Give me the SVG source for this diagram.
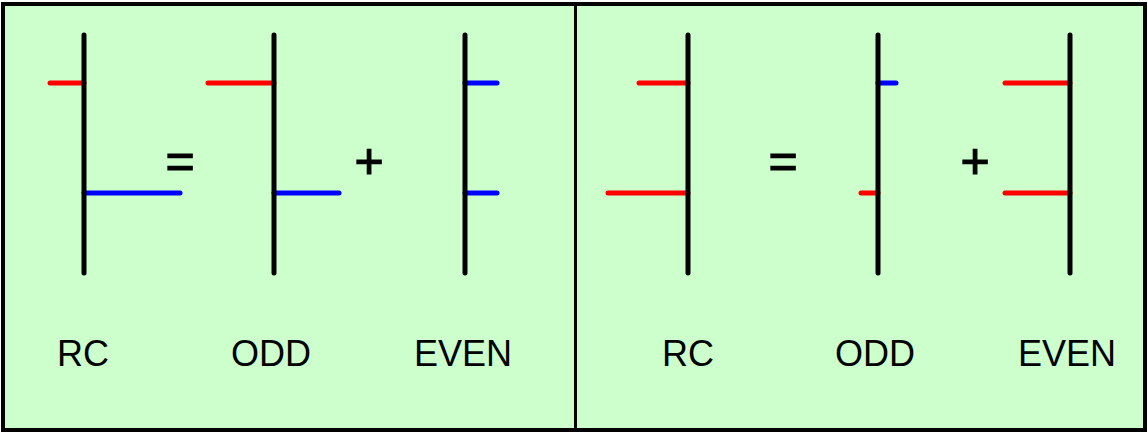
<svg xmlns="http://www.w3.org/2000/svg" width="1148" height="433" viewBox="0 0 1148 433">
<style>
.bar{stroke:#000;stroke-width:5;stroke-linecap:round;fill:none}
.r{stroke:#FF0000;stroke-width:5;stroke-linecap:round;fill:none}
.b{stroke:#0000FF;stroke-width:5;stroke-linecap:round;fill:none}
.lbl{font-family:"Liberation Sans",Arial,sans-serif;font-size:36px;fill:#000;text-anchor:middle}
.op{font-family:"Liberation Sans",Arial,sans-serif;font-size:50px;fill:#000;stroke:#000;stroke-width:1.2;text-anchor:middle}
</style>
<g id="frame">
<rect x="3" y="4" width="1142" height="426" fill="#CCFFCC" stroke="#000" stroke-width="4"/>
<line x1="575.5" y1="4" x2="575.5" y2="430" stroke="#000" stroke-width="3"/>
</g>
<g id="connectors">
<line class="r" x1="50" y1="83" x2="84" y2="83"/>
<line class="b" x1="84" y1="193" x2="180" y2="193"/>
<line class="r" x1="208" y1="83" x2="274" y2="83"/>
<line class="b" x1="274" y1="193" x2="339" y2="193"/>
<line class="b" x1="465" y1="83" x2="497" y2="83"/>
<line class="b" x1="465" y1="193" x2="497" y2="193"/>
<line class="r" x1="639" y1="83" x2="688" y2="83"/>
<line class="r" x1="608" y1="193" x2="688" y2="193"/>
<line class="b" x1="878" y1="83" x2="896" y2="83"/>
<line class="r" x1="861" y1="193" x2="878" y2="193"/>
<line class="r" x1="1005" y1="83" x2="1070" y2="83"/>
<line class="r" x1="1005" y1="193" x2="1070" y2="193"/>
</g>
<g id="rc-left"><line class="bar" x1="84" y1="35" x2="84" y2="273"/><text class="lbl" x="83" y="366">RC</text></g>
<g id="odd-left"><line class="bar" x1="274" y1="35" x2="274" y2="273"/><text class="lbl" x="271" y="366">ODD</text></g>
<g id="even-left"><line class="bar" x1="465" y1="35" x2="465" y2="273"/><text class="lbl" x="463" y="366">EVEN</text></g>
<g id="rc-right"><line class="bar" x1="688" y1="35" x2="688" y2="273"/><text class="lbl" x="688" y="366">RC</text></g>
<g id="odd-right"><line class="bar" x1="878" y1="35" x2="878" y2="273"/><text class="lbl" x="875" y="366">ODD</text></g>
<g id="even-right"><line class="bar" x1="1070" y1="35" x2="1070" y2="273"/><text class="lbl" x="1067" y="366">EVEN</text></g>
<g id="operators">
<text class="op" x="180" y="178">=</text>
<text class="op" x="369" y="178">+</text>
<text class="op" x="783" y="178">=</text>
<text class="op" x="975" y="178">+</text>
</g>
</svg>
